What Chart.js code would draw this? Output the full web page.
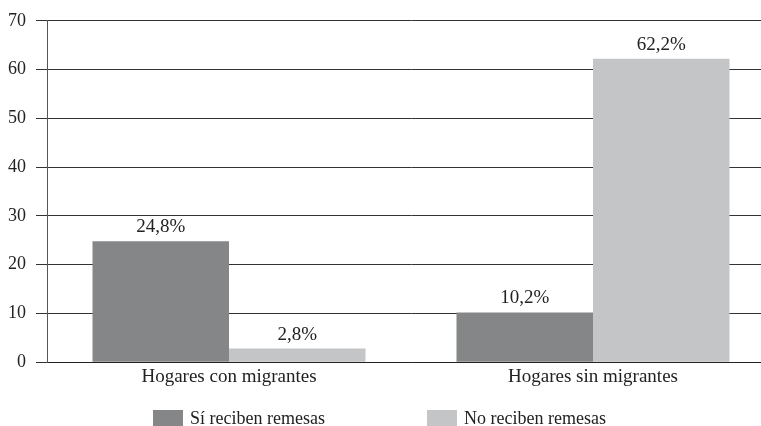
<!DOCTYPE html>
<html>
<head>
<meta charset="utf-8">
<script src="https://cdn.jsdelivr.net/npm/chart.js@4"></script>
<style>
  html, body { margin: 0; padding: 0; background: #fff; overflow: hidden; }
  #wrap { position: relative; width: 761px; height: 426px; overflow: hidden; }
  #chart-box { position: absolute; left: 0; top: 0; width: 775px; height: 426px; }
  .legend { position: absolute; top: 408px; font-family: "Liberation Serif", serif; font-size: 18px; color: #222; }
  .legend span.box { position: absolute; left: 0; top: 2px; width: 30px; height: 16px; }
  .legend span.txt { position: absolute; left: 37px; top: 0; white-space: nowrap; }
</style>
</head>
<body>
<div id="wrap">
  <div id="chart-box"><canvas id="remesas-chart"></canvas></div>
  <div class="legend" style="left:153px"><span class="box" style="background:#858688"></span><span class="txt">Sí reciben remesas</span></div>
  <div class="legend" style="left:427px"><span class="box" style="background:#c4c5c7"></span><span class="txt">No reciben remesas</span></div>
</div>
<script>
const categories = ['Hogares con migrantes', 'Hogares sin migrantes'];
const siReciben = [24.8, 10.2];
const noReciben = [2.8, 62.2];
const yTicks = [0, 10, 20, 30, 40, 50, 60, 70];

const serif = '"Liberation Serif", serif';

// percentage labels above each bar, with a decimal comma
const barLabels = {
  id: 'barLabels',
  afterDatasetsDraw(chart) {
    const ctx = chart.ctx;
    ctx.save();
    ctx.font = '19px ' + serif;
    ctx.fillStyle = '#222';
    ctx.textAlign = 'center';
    ctx.textBaseline = 'alphabetic';
    chart.data.datasets.forEach((ds, i) => {
      chart.getDatasetMeta(i).data.forEach((bar, j) => {
        const txt = ds.data[j].toFixed(1).replace('.', ',') + '%';
        ctx.fillText(txt, bar.x, bar.y - 9);
      });
    });
    ctx.restore();
  }
};

new Chart(document.querySelector('#remesas-chart').getContext('2d'), {
  type: 'bar',
  data: {
    labels: categories,
    datasets: [
      { label: 'Sí reciben remesas', data: siReciben, backgroundColor: '#858688' },
      { label: 'No reciben remesas', data: noReciben, backgroundColor: '#c4c5c7' }
    ]
  },
  options: {
    responsive: true,
    maintainAspectRatio: false,
    animation: false,
    categoryPercentage: 0.75,
    barPercentage: 1.0,
    layout: { padding: { top: 20, bottom: 35, left: 0, right: 0 } },
    plugins: {
      legend: { display: false },
      tooltip: { enabled: false }
    },
    scales: {
      x: {
        grid: { display: false, drawTicks: false },
        border: { display: true, color: '#222', width: 1 },
        ticks: { color: '#222', font: { family: serif, size: 19 }, padding: 3 }
      },
      y: {
        min: 0,
        max: 70,
        afterBuildTicks: scale => { scale.ticks = yTicks.map(v => ({ value: v })); },
        afterFit: scale => { scale.width = 47; },
        grid: { color: '#333', lineWidth: 1, tickLength: 11 },
        border: { display: true, color: '#555', width: 1 },
        ticks: { color: '#222', font: { family: serif, size: 18 }, padding: 10 }
      }
    }
  },
  plugins: [barLabels]
});
</script>
</body>
</html>
